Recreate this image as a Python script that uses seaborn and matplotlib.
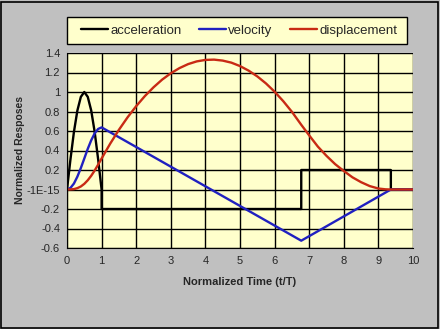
import matplotlib
matplotlib.use("Agg")
import matplotlib.pyplot as plt
import seaborn as sns
import pandas as pd
from matplotlib.patches import Rectangle

# ---- data ----
acc_t = [0.0, 0.1, 0.2, 0.3, 0.4, 0.5, 0.6, 0.7, 0.8, 0.9, 1.0, 1.0, 6.77, 6.77, 9.36, 9.36, 10.0]
acc_y = [0.0, 0.31, 0.59, 0.81, 0.95, 1.0, 0.95, 0.81, 0.59, 0.31, 0.0, -0.2, -0.2, 0.2, 0.2, 0.0, 0.0]

vel_t = [0.0, 0.1, 0.2, 0.3, 0.4, 0.5, 0.6, 0.7, 0.8, 0.9, 1.0, 6.77, 9.36, 10.0]
vel_y = [0.0, 0.016, 0.061, 0.132, 0.22, 0.318, 0.417, 0.505, 0.576, 0.621, 0.637, -0.525, 0.0, 0.0]

disp_t = [0.0, 0.1, 0.2, 0.3, 0.4, 0.5, 0.6, 0.7, 0.8, 0.9, 1.0, 1.25, 1.5, 1.75, 2.0, 2.25, 2.5,
          2.75, 3.0, 3.25, 3.5, 3.75, 4.0, 4.25, 4.5, 4.75, 5.0, 5.25, 5.5, 5.75, 6.0, 6.25, 6.5,
          6.77, 7.0, 7.25, 7.5, 7.75, 8.0, 8.25, 8.5, 8.75, 9.0, 9.2, 9.36, 10.0]
disp_y = [0.0, 0.001, 0.004, 0.014, 0.031, 0.058, 0.095, 0.141, 0.195, 0.255, 0.318, 0.471, 0.612,
          0.74, 0.855, 0.958, 1.048, 1.127, 1.192, 1.245, 1.286, 1.314, 1.329, 1.332, 1.322, 1.301,
          1.266, 1.219, 1.16, 1.088, 1.003, 0.906, 0.797, 0.664, 0.555, 0.44, 0.345, 0.26, 0.19,
          0.125, 0.075, 0.035, 0.01, 0.002, 0.0, 0.0]

series_names = ["acceleration", "velocity", "displacement"]
x_ticks = [0, 1, 2, 3, 4, 5, 6, 7, 8, 9, 10]
y_ticks = [1.4, 1.2, 1.0, 0.8, 0.6, 0.4, 0.2, 0.0, -0.2, -0.4, -0.6]
y_tick_labels = ["1.4", "1.2", "1", "0.8", "0.6", "0.4", "0.2", "-1E-15", "-0.2", "-0.4", "-0.6"]

colors = {"acceleration": "#000000", "velocity": "#2020C0", "displacement": "#C82A14"}

sns.set_style("white")
plt.rcParams["font.family"] = ["Liberation Sans", "DejaVu Sans"]

fig = plt.figure(figsize=(4.4, 3.29), dpi=100, facecolor="#C0C0C0")
ax = fig.add_axes([67 / 440, 1 - 248 / 329, 346 / 440, 195 / 329])
ax.set_facecolor("#FFFFCC")

for name, t, y in [("acceleration", acc_t, acc_y), ("velocity", vel_t, vel_y), ("displacement", disp_t, disp_y)]:
    df = pd.DataFrame({"t": t, "y": y})
    sns.lineplot(data=df, x="t", y="y", ax=ax, sort=False, estimator=None,
                 color=colors[name], linewidth=1.7, label=name, legend=False)

ax.set_xlim(0, 10)
ax.set_ylim(-0.6, 1.4)
ax.set_xticks(x_ticks)
ax.set_yticks(y_ticks)
ax.set_yticklabels(y_tick_labels)
ax.grid(True, color="black", linewidth=1.0)
ax.set_axisbelow(True)
for s in ax.spines.values():
    s.set_visible(False)
ax.spines["left"].set_visible(True)
ax.spines["bottom"].set_visible(True)
ax.spines["left"].set_color("black")
ax.spines["bottom"].set_color("black")
ax.tick_params(axis="both", which="both", direction="out", length=4, width=1,
               color="black", labelsize=8, pad=2)
ax.tick_params(axis="y", pad=1)

ax.set_xlabel("Normalized Time (t/T)", fontsize=8, fontweight="bold", labelpad=8)
ax.set_ylabel("Normalized Resposes", fontsize=7.5, fontweight="bold", labelpad=1)

# legend box
fig.patches.append(Rectangle((67 / 440, 1 - 44 / 329), 340 / 440, 27 / 329, transform=fig.transFigure,
                             facecolor="#FFFFCC", edgecolor="black", linewidth=1.0, zorder=0))
handles, labels = ax.get_legend_handles_labels()
leg = fig.legend(handles, labels, loc="center", ncol=3,
                 bbox_to_anchor=(239 / 440, 1 - 30.5 / 329),
                 frameon=False, fontsize=9.5, handlelength=2.1,
                 handletextpad=0.15, columnspacing=1.3, borderaxespad=0, borderpad=0)

fig.patches.append(Rectangle((1 / 440, 1 / 329), 437 / 440, 326 / 329, transform=fig.transFigure,
                             fill=False, edgecolor="black", linewidth=1.2))

fig.savefig("out.png", dpi=100, facecolor=fig.get_facecolor())
